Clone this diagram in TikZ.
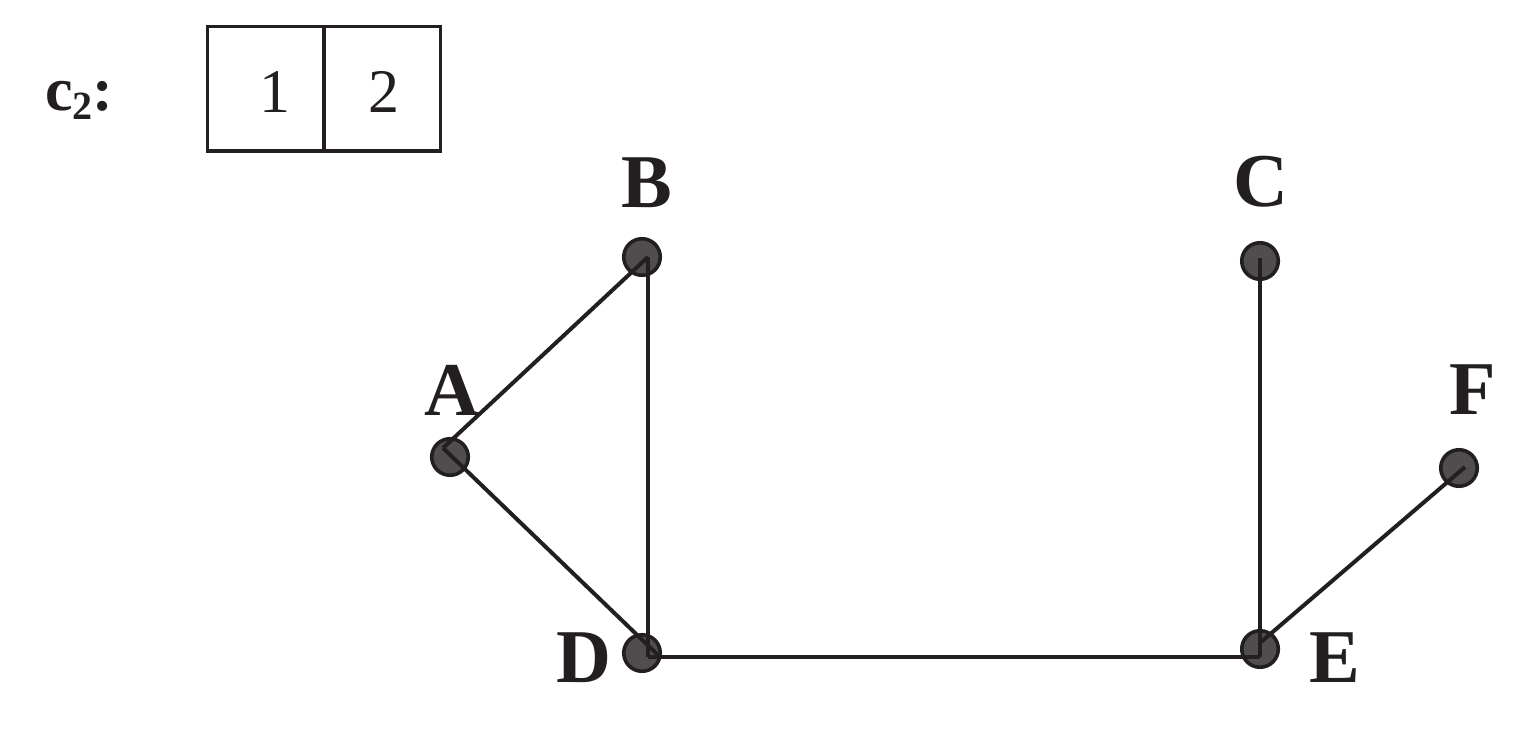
\documentclass[tikz,border=0pt]{standalone}
\usepackage{fontspec}
\setmainfont{Liberation Serif}
\definecolor{ink}{RGB}{35,31,32}
\definecolor{vfill}{RGB}{80,77,78}
\begin{document}
\begin{tikzpicture}[x=1pt,y=-1pt,
  vertex/.style={circle,draw=ink,fill=vfill,line width=3.6pt,minimum size=36.5pt,inner sep=0pt},
  edge/.style={draw=ink,line width=4pt},
  vlabel/.style={inner sep=0pt,text=ink,font=\fontsize{76}{76}\selectfont\bfseries},
  cell/.style={draw=ink,line width=3.4pt,minimum width=116.5pt,minimum height=124.5pt,inner sep=0pt},
  digit/.style={inner sep=0pt,text=ink,font=\fontsize{62}{62}\selectfont}]
\useasboundingbox (0,0) rectangle (1528,728);
% array c2
\node[inner sep=0pt,anchor=base west,text=ink,font=\fontsize{62}{62}\selectfont\bfseries] (clabel) at (45,110) {c\raisebox{-9pt}{\fontsize{40}{40}\selectfont 2}:};
\node[cell] (cell1) at (265.75,88.75) {};
\node[cell] (cell2) at (382.25,88.75) {};
\node[digit] (d1) at (274.5,92) {1};
\node[digit] (d2) at (384,92) {2};
% vertices
\node[vertex] (A) at (450,457) {};
\node[vertex] (B) at (642,257) {};
\node[vertex] (C) at (1260,261) {};
\node[vertex] (D) at (642,653) {};
\node[vertex] (E) at (1260,649) {};
\node[vertex] (F) at (1459,468) {};
% edge attachment points
\coordinate (a) at (443,448);
\coordinate (b) at (648,257);
\coordinate (c) at (1260,258);
\coordinate (d) at (648,657);
\coordinate (dd) at (660,657);
\coordinate (e) at (1260,657);
\coordinate (ef) at (1261,642);
\coordinate (f) at (1465,467);
% edges
\draw[edge] (a) -- (b);
\draw[edge] (a) -- (dd);
\draw[edge] (b) -- (d);
\draw[edge] (d) -- (e);
\draw[edge] (c) -- (e);
\draw[edge] (ef) -- (f);
% labels
\node[vlabel] (lA) at (452,390) {A};
\node[vlabel] (lB) at (646.5,182.5) {B};
\node[vlabel] (lC) at (1261,182) {C};
\node[vlabel] (lD) at (584,658) {D};
\node[vlabel] (lE) at (1335,658) {E};
\node[vlabel] (lF) at (1472.5,390) {F};
\end{tikzpicture}
\end{document}
